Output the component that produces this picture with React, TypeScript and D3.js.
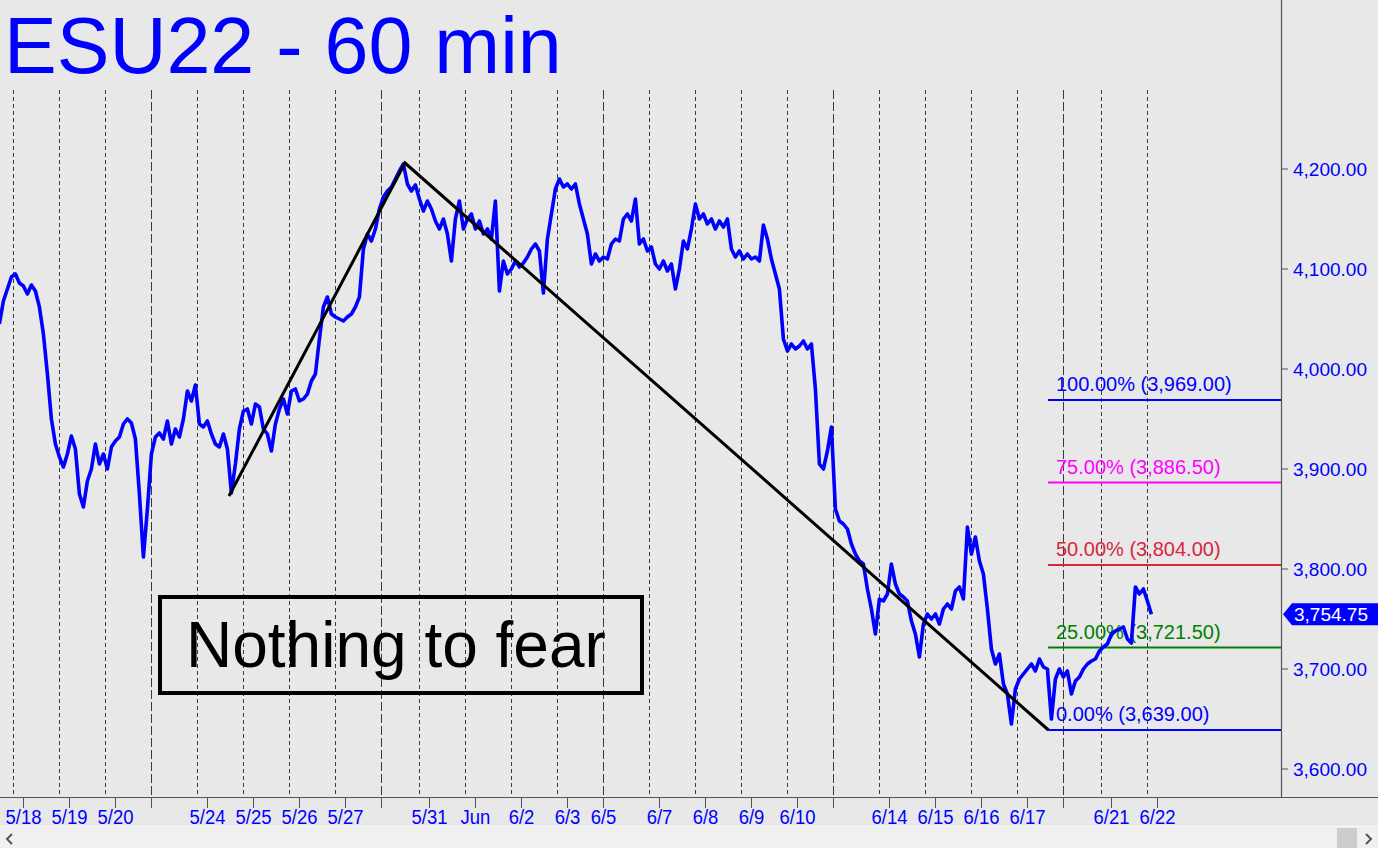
import React from "react";
import * as d3 from "d3";

// ---------- data ----------
const title = "ESU22 - 60 min";
const note = "Nothing to fear";

// trading sessions (hourly bars per session); first entry = partial session before 5/18
const sessionNames = ["pre","5/18","5/19","5/20","5/23","5/24","5/25","5/26","5/27","5/30","5/31","6/1","6/2","6/3","6/6","6/7","6/8","6/9","6/10","6/13","6/14","6/15","6/16","6/17","6/20","6/21","6/22"];
const sessionHours = [7,23,23,23,23,23,23,23,23,19,23,23,23,23,23,23,23,23,23,23,23,23,23,23,19,23,23];
const weekStarts = ["5/23","5/30","6/6","6/13","6/20"];

// x-axis labels and their bar positions
const xLabels = ["5/18","5/19","5/20","5/24","5/25","5/26","5/27","5/31","Jun","6/2","6/3","6/5","6/7","6/8","6/9","6/10","6/14","6/15","6/16","6/17","6/21","6/22"];
const xLabelBars = [12,35,58,104,127,150,173,215,238,261,284,302,330,353,376,399,445,468,491,514,556,579];

// price every 2 hourly bars, starting at bar 0
const prices = [
  4045,4068,4080,4092,4095,4086,4083,4075,4084,4078,
  4062,4035,3995,3950,3925,3912,3902,3915,3933,3920,
  3875,3862,3888,3900,3925,3905,3915,3900,3922,3928,
  3932,3945,3950,3946,3930,3875,3812,3860,3915,3932,
  3936,3930,3948,3925,3940,3932,3950,3978,3968,3984,
  3945,3942,3948,3935,3925,3922,3935,3920,3876,3905,
  3940,3958,3960,3945,3965,3962,3940,3935,3918,3945,
  3960,3970,3955,3978,3980,3968,3970,3975,3988,3995,
  4030,4062,4072,4055,4052,4050,4048,4052,4055,4062,
  4072,4120,4135,4128,4140,4160,4172,4178,4182,4190,
  4198,4205,4185,4178,4184,4170,4158,4168,4160,4148,
  4140,4150,4135,4108,4150,4168,4140,4150,4155,4140,
  4148,4135,4140,4130,4168,4078,4108,4095,4100,4108,
  4102,4106,4112,4120,4125,4118,4076,4130,4155,4180,
  4190,4182,4185,4180,4185,4165,4150,4135,4105,4115,
  4108,4112,4110,4125,4130,4128,4150,4155,4148,4170,
  4125,4130,4118,4122,4105,4100,4108,4098,4105,4080,
  4100,4128,4120,4140,4165,4150,4155,4145,4150,4140,
  4148,4142,4150,4120,4112,4118,4110,4115,4110,4112,
  4108,4144,4130,4110,4095,4080,4030,4018,4025,4020,
  4023,4028,4020,4025,3980,3905,3900,3918,3942,3860,
  3848,3845,3840,3825,3815,3808,3805,3780,3760,3735,
  3770,3768,3775,3805,3785,3775,3772,3768,3748,3735,
  3712,3745,3755,3750,3755,3745,3760,3765,3760,3778,
  3782,3770,3842,3815,3832,3808,3795,3760,3720,3705,
  3715,3685,3675,3645,3680,3690,3695,3700,3705,3698,
  3710,3702,3700,3650,3690,3700,3692,3698,3675,3688,
  3692,3700,3705,3708,3710,3718,3722,3725,3735,3738,
  3740,3742,3730,3726,3782,3775,3780,3768,3754.75
];
const lastPrice = 3754.75;

// trend lines (bar, price)
const trendBars = [114.8, 202.8, 524.5];
const trendPrices = [3873, 4206, 3639];

// fibonacci levels
const fibPct = [100, 75, 50, 25, 0];
const fibVals = [3969, 3886.5, 3804, 3721.5, 3639];
const fibColors = ["#0000ff", "#ff00ff", "#d7263d", "#008000", "#0000ff"];
const fibStartBar = 524.3;

const yTicks = [3600, 3700, 3800, 3900, 4000, 4100, 4200];

// ---------- chart ----------
const W = 1378, H = 848;
const plotRight = 1281, axisY = 797, gridTop = 90;
const FONT = "'Liberation Sans', Arial, Helvetica, sans-serif";
const BLUE = "#0000ff";

export default function App() {
  const x = d3.scaleLinear().domain([0, 640]).range([-0.6, 1279.4]);
  const y = d3.scaleLinear().domain([3600, 4200]).range([769, 169]);
  const fmt = d3.format(",.2f");

  // session boundaries
  const bounds: { bar: number; name: string }[] = [];
  let acc = 0;
  sessionHours.forEach((h, i) => {
    if (i > 0) bounds.push({ bar: acc, name: sessionNames[i] });
    acc += h;
  });

  const line = d3
    .line<number>()
    .x((_, i) => x(i * 2))
    .y((d) => y(d));

  const trend = d3
    .line<number>()
    .x((_, i) => x(trendBars[i]))
    .y((d) => y(d));

  const ly = y(lastPrice);

  return (
    <svg
      width={W}
      height={H}
      style={{ position: "absolute", left: 0, top: 0, display: "block" }}
      fontFamily={FONT}
    >
      <rect x={0} y={0} width={W} height={H} fill="#e8e8e8" />

      {/* title */}
      <text x={4} y={73} fontSize={79} fill={BLUE}>{title}</text>

      {/* grid lines at session boundaries */}
      {bounds.map((b) => {
        const wk = weekStarts.includes(b.name);
        const xx = Math.round(x(b.bar)) + 0.5;
        return (
          <g key={b.name}>
            <line x1={xx} x2={xx} y1={gridTop} y2={axisY} stroke="#3a3a3a" strokeWidth={1}
              strokeDasharray={wk ? "9,3" : "4,3"} />
            {wk && <line x1={xx} x2={xx} y1={axisY} y2={808} stroke="#555" strokeWidth={1} />}
          </g>
        );
      })}

      {/* axes */}
      <line x1={0} x2={W} y1={axisY + 0.5} y2={axisY + 0.5} stroke="#555" strokeWidth={1.2} />
      <line x1={plotRight + 0.5} x2={plotRight + 0.5} y1={0} y2={axisY} stroke="#555" strokeWidth={1.2} />

      {/* x labels */}
      {xLabels.map((t, i) => {
        const xx = Math.round(x(xLabelBars[i])) + 0.5;
        return (
          <g key={t}>
            <line x1={xx} x2={xx} y1={axisY} y2={808} stroke="#555" strokeWidth={1} />
            <text x={0} y={0} fontSize={21} fill={BLUE} textAnchor="middle"
              transform={`translate(${xx},824) scale(0.88,1)`}>{t}</text>
          </g>
        );
      })}

      {/* y labels */}
      {yTicks.map((v) => (
        <g key={v}>
          <line x1={plotRight} x2={plotRight + 7} y1={y(v)} y2={y(v)} stroke="#555" strokeWidth={1} />
          <text x={1293} y={y(v) + 7} fontSize={19} fill={BLUE}>{fmt(v)}</text>
        </g>
      ))}

      {/* fib levels */}
      {fibVals.map((v, i) => (
        <g key={v}>
          <line x1={x(fibStartBar)} x2={plotRight} y1={y(v)} y2={y(v)} stroke={fibColors[i]} strokeWidth={2} />
          <text x={1056} y={y(v) - 9} fontSize={20} fill={fibColors[i]}>
            {`${fmt(fibPct[i])}% (${fmt(v)})`}
          </text>
        </g>
      ))}

      {/* price series */}
      <path d={line(prices) || ""} fill="none" stroke={BLUE} strokeWidth={3.6} strokeLinejoin="round" />

      {/* trend lines */}
      <path d={trend(trendPrices) || ""} fill="none" stroke="#000" strokeWidth={3} />

      {/* note box */}
      <rect x={160} y={597} width={482} height={96} fill="none" stroke="#000" strokeWidth={4} />
      <text x={186} y={667} fontSize={64} fill="#000">{note}</text>

      {/* last price flag */}
      <path
        d={`M1283,${ly} L1292,${ly - 11} L${W},${ly - 11} L${W},${ly + 11} L1292,${ly + 11} Z`}
        fill={BLUE}
      />
      <text x={1294} y={ly + 7} fontSize={19} fill="#fff">{fmt(lastPrice)}</text>

      {/* scrollbar */}
      <rect x={0} y={827} width={W} height={21} fill="#f0f0f0" />
      <line x1={0} x2={W} y1={826.5} y2={826.5} stroke="#fafafa" strokeWidth={1} />
      <path d="M12,834 L7,839 L12,844" fill="none" stroke="#555" strokeWidth={2} />
      <rect x={1337} y={828} width={20} height={20} fill="#cdcdcd" />
      <path d="M1366,834 L1371,839 L1366,844" fill="none" stroke="#555" strokeWidth={2} />
    </svg>
  );
}
